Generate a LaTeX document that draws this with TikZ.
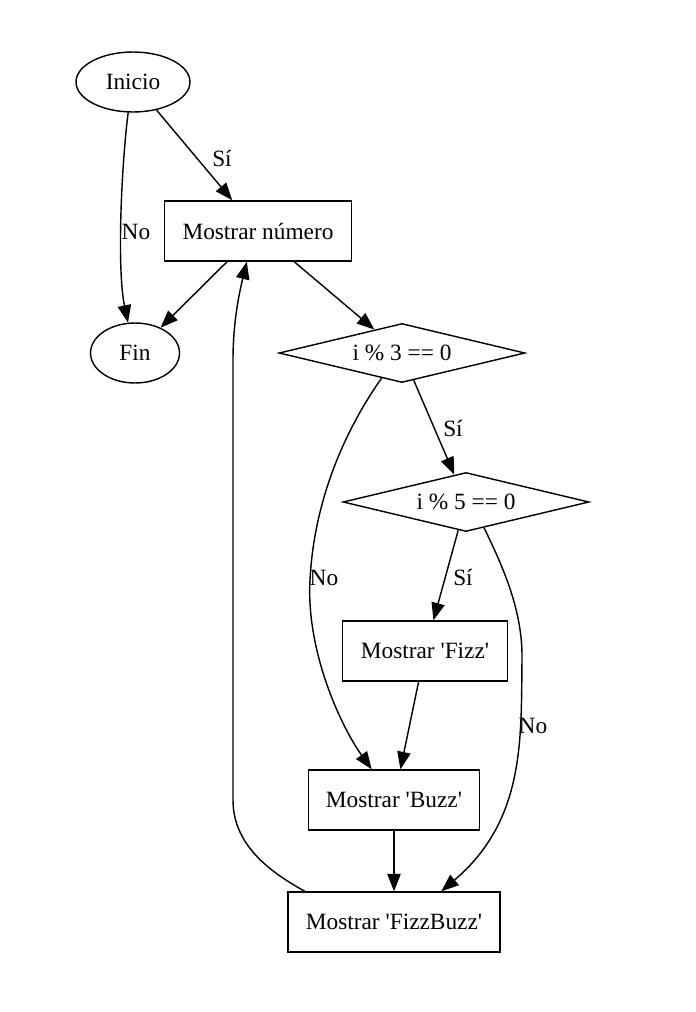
\documentclass[tikz,border=0pt]{standalone}
\usepackage{fontspec}
\setmainfont{Liberation Serif}
\usetikzlibrary{shapes.geometric,arrows.meta}

\begin{document}
\begin{tikzpicture}[x=0.6pt,y=-0.6pt,
	font=\fontsize{14}{17}\selectfont,
	every node/.style={inner sep=0pt},
	ovalo/.style={draw,ellipse,minimum height=36pt},
	caja/.style={draw,rectangle,minimum height=36pt},
	rombo/.style={draw,diamond,aspect=4,minimum width=147.6pt,minimum height=35.4pt},
	flecha/.style={-{Triangle[length=10.5pt,width=8pt]}},
	line width=0.85pt]
	\useasboundingbox (0,0) rectangle (695,1012);
	
	% nodos
	\node[ovalo,minimum width=68.4pt] (inicio) at (133,82) {Inicio};
	\node[caja,minimum width=112.2pt] (mostrar) at (258,231) {Mostrar número};
	\node[ovalo,minimum width=53.4pt] (fin) at (135,353) {Fin};
	\node[rombo] (mod3) at (402,353) {i \% 3 == 0};
	\node[rombo] (mod5) at (466,502) {i \% 5 == 0};
	\node[caja,minimum width=99pt] (fizz) at (425,651) {Mostrar \textquotesingle Fizz\textquotesingle};
	\node[caja,minimum width=102.6pt] (buzz) at (394,800) {Mostrar \textquotesingle Buzz\textquotesingle};
	\node[caja,minimum width=127.2pt] (fizzbuzz) at (394,922) {Mostrar \textquotesingle FizzBuzz\textquotesingle};
	
	% etiquetas
	\node (si1) at (222,158) {Sí};
	\node (no1) at (136,232) {No};
	\node (si2) at (453,428) {Sí};
	\node (no2) at (324,578) {No};
	\node (si3) at (463,577) {Sí};
	\node (no3) at (533,726) {No};
	
	% flechas
	\draw[flecha] (inicio) -- (mostrar);
	\draw[flecha] (inicio.261) .. controls (121,170) and (117,270) .. (fin.103);
	\draw[flecha] (mostrar) -- (fin);
	\draw[flecha] (mostrar) -- (mod3);
	\draw[flecha] (mod3) -- (mod5);
	\draw[flecha] (mod3.231) .. controls (345,430) and (314,500) .. (310,580)
		.. controls (306,650) and (340,725) .. (buzz.126);
	\draw[flecha] (mod5) -- (fizz);
	\draw[flecha] (mod5.305) .. controls (502,565) and (523,610) .. (522,660)
		.. controls (521,740) and (525,820) .. (fizzbuzz.33);
	\draw[flecha] (fizz) -- (buzz);
	\draw[flecha] (buzz) -- (fizzbuzz);
	
	% vuelta al inicio del bucle
	\draw[flecha] (fizzbuzz.161) .. controls (270,872) and (233,845) .. (233,800)
		-- (233,360) .. controls (233,320) and (240,290) .. (mostrar.250);
\end{tikzpicture}
\end{document}
